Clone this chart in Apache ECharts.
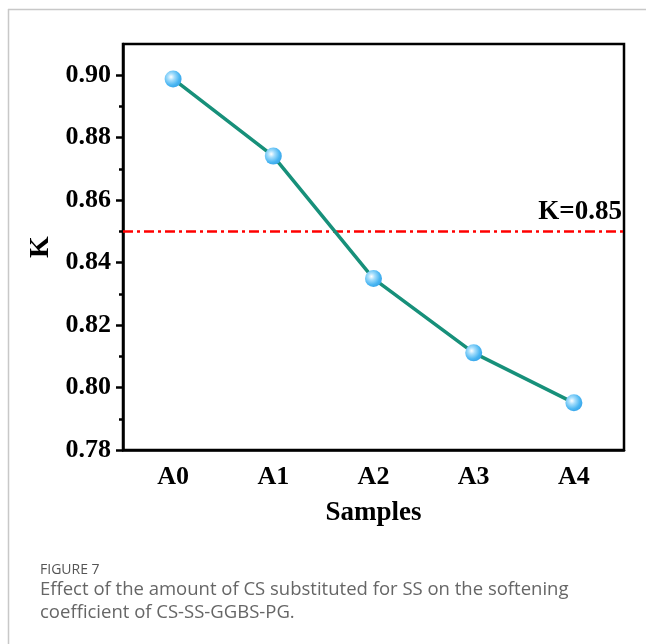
<!DOCTYPE html>
<html>
<head>
<meta charset="utf-8">
<script src="https://cdn.jsdelivr.net/npm/echarts@6/dist/echarts.min.js"></script>
<style>html,body{margin:0;padding:0;background:#fff}#c{width:646px;height:644px}</style>
</head>
<body>
<div id="c"></div>
<script>
const categories = ['A0', 'A1', 'A2', 'A3', 'A4'];
const kValues = [0.8988, 0.8741, 0.8349, 0.8111, 0.7951];
const threshold = 0.85;
const yMajorTicks = [0.78, 0.80, 0.82, 0.84, 0.86, 0.88, 0.90];
const yMinorTicks = [0.79, 0.81, 0.83, 0.85, 0.87, 0.89];

const chart = echarts.init(document.getElementById('c'), null, {renderer: 'canvas'});
const serif = '"Liberation Serif", "Times New Roman", serif';
const grid = {left: 123, right: 22, top: 44, bottom: 194, show: true, borderColor: '#000', borderWidth: 2.5, backgroundColor: 'transparent'};

chart.setOption({
  animation: false,
  grid: grid,
  xAxis: [{
    type: 'category', data: categories, boundaryGap: true,
    name: 'Samples', nameLocation: 'middle', nameGap: 50,
    nameTextStyle: {fontFamily: serif, fontWeight: 'bold', fontSize: 27, color: '#000'},
    axisLine: {lineStyle: {color: '#000', width: 2.5}},
    axisTick: {alignWithLabel: true, length: 7, lineStyle: {color: '#000', width: 2.5}},
    axisLabel: {fontFamily: serif, fontWeight: 'bold', fontSize: 26, color: '#000', margin: 14},
    splitLine: {show: false}
  }, {
    type: 'category', data: categories, boundaryGap: true, position: 'bottom',
    axisLine: {show: false},
    axisTick: {alignWithLabel: false, interval: 0, length: 4, lineStyle: {color: '#000', width: 2.5}},
    axisLabel: {show: false}, splitLine: {show: false}
  }],
  yAxis: [{
    type: 'value', min: 0.78, max: 0.91, interval: 0.02,
    name: 'K', nameLocation: 'middle', nameGap: 66, nameRotate: 90,
    nameTextStyle: {fontFamily: serif, fontWeight: 'bold', fontSize: 28, color: '#000'},
    axisLine: {show: true, lineStyle: {color: '#000', width: 2.5}},
    axisTick: {show: true, length: 7, customValues: yMajorTicks, lineStyle: {color: '#000', width: 2.5}},
    axisLabel: {customValues: yMajorTicks, fontFamily: serif, fontWeight: 'bold', fontSize: 26, color: '#000', margin: 12,
      formatter: v => v.toFixed(2)},
    splitLine: {show: false}
  }, {
    type: 'value', min: 0.78, max: 0.91, position: 'left',
    axisLine: {show: false},
    axisTick: {show: true, length: 4, customValues: yMinorTicks, lineStyle: {color: '#000', width: 2.5}},
    axisLabel: {show: false}, splitLine: {show: false}
  }],
  series: [{
    type: 'line', data: kValues, xAxisIndex: 0, yAxisIndex: 0,
    symbol: 'circle', symbolSize: 17,
    lineStyle: {color: '#17907a', width: 3.5},
    itemStyle: {
      color: new echarts.graphic.RadialGradient(0.38, 0.38, 0.65, [
        {offset: 0, color: '#ffffff'},
        {offset: 0.3, color: '#a6defc'},
        {offset: 0.75, color: '#4ab6f2'},
        {offset: 1, color: '#3aa6ea'}
      ]),
      borderWidth: 0
    },
    z: 5,
    markLine: {
      silent: true, symbol: 'none',
      lineStyle: {color: '#ff0000', width: 2.5, type: [10, 4, 3, 4]},
      label: {show: true, position: 'insideEndTop', formatter: 'K=0.85', distance: [2, 6],
        fontFamily: serif, fontWeight: 'bold', fontSize: 27, color: '#000'},
      data: [{yAxis: threshold}]
    }
  }],
  graphic: [
    {type: 'line', shape: {x1: 8, y1: 9.5, x2: 646, y2: 9.5}, style: {stroke: '#c8c8c8', lineWidth: 1.5}},
    {type: 'line', shape: {x1: 8.5, y1: 9, x2: 8.5, y2: 644}, style: {stroke: '#c8c8c8', lineWidth: 1.5}},
    {type: 'text', left: 40, top: 563, style: {text: 'FIGURE 7', font: '14px "Open Sans", "Noto Sans", sans-serif', fill: '#555'}},
    {type: 'text', left: 40, top: 580, style: {text: 'Effect of the amount of CS substituted for SS on the softening', font: '18.5px "Open Sans", "Noto Sans", sans-serif', fill: '#666'}},
    {type: 'text', left: 40, top: 603, style: {text: 'coefficient of CS-SS-GGBS-PG.', font: '18.5px "Open Sans", "Noto Sans", sans-serif', fill: '#666'}}
  ]
});
</script>
</body>
</html>
